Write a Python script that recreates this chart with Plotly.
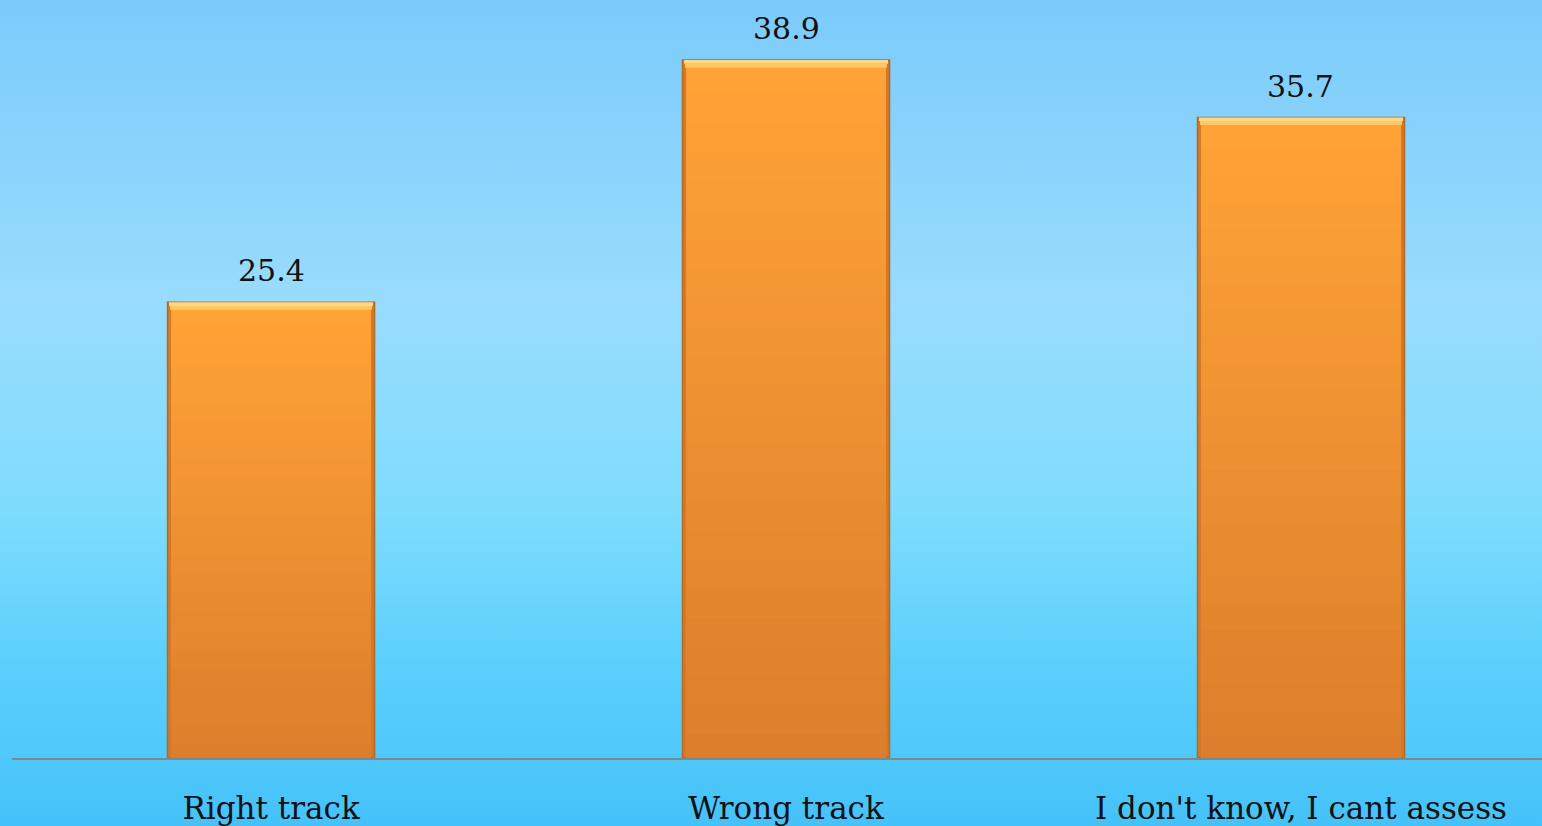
import base64
import plotly.graph_objects as go

# data
categories = ["Right track", "Wrong track", "I don't know, I cant assess"]
values = [25.4, 38.9, 35.7]
value_labels = ["25.4", "38.9", "35.7"]

# background gradient as an inline svg
bg_svg = """<svg xmlns='http://www.w3.org/2000/svg' width='100' height='100' preserveAspectRatio='none'>
<defs><linearGradient id='g' x1='0' y1='0' x2='0' y2='1'>
<stop offset='0' stop-color='#7BCBFB'/>
<stop offset='0.37' stop-color='#99DCFD'/>
<stop offset='0.62' stop-color='#7EDCFD'/>
<stop offset='0.80' stop-color='#5CD0FC'/>
<stop offset='1' stop-color='#45C2FA'/>
</linearGradient></defs>
<rect width='100' height='100' fill='url(#g)'/></svg>"""
bg_uri = "data:image/svg+xml;base64," + base64.b64encode(bg_svg.encode()).decode()


def mix(c1, c2, t):
    a = [int(c1[i:i + 2], 16) for i in (1, 3, 5)]
    b = [int(c2[i:i + 2], 16) for i in (1, 3, 5)]
    return "#%02X%02X%02X" % tuple(round(a[k] + (b[k] - a[k]) * t) for k in range(3))


fig = go.Figure()

bar_w = 0.402

# outer bar = darker bevel edge
fig.add_trace(go.Bar(x=categories, y=values, width=bar_w,
                     marker=dict(color="#D27A2A", line=dict(color="#B8691F", width=1.5)),
                     hoverinfo="skip", showlegend=False))

# vertical gradient of the face, stacked from light (top) to dark (bottom)
n = 24
for i in range(n):
    c = mix("#FFA337", "#DC7E2C", i / (n - 1))
    frac = 1 - i / n
    fig.add_trace(go.Bar(x=categories, y=[v * frac - 0.3 for v in values],
                         width=bar_w - 0.014,
                         marker=dict(color=c, line=dict(width=0)),
                         hoverinfo="skip", showlegend=False))

# top bevel highlight
fig.add_trace(go.Bar(x=categories, y=[0.22] * 3, base=[v - 0.42 for v in values],
                     width=bar_w - 0.01,
                     marker=dict(color="#FFC766", line=dict(width=0)),
                     hoverinfo="skip", showlegend=False))
fig.add_trace(go.Bar(x=categories, y=[0.2] * 3, base=[v - 0.2 for v in values],
                     width=bar_w - 0.006,
                     marker=dict(color="#FFD98A", line=dict(width=0)),
                     hoverinfo="skip", showlegend=False))

for cat, v, lab in zip(categories, values, value_labels):
    fig.add_annotation(x=cat, y=v, text=lab, showarrow=False,
                       yanchor="bottom", yshift=12,
                       font=dict(family="DejaVu Serif", size=30, color="#111111"))

fig.add_layout_image(dict(source=bg_uri, xref="paper", yref="paper",
                          x=-12 / 1530, y=1, sizex=1 + 24 / 1530, sizey=1 + 68 / 758,
                          xanchor="left", yanchor="top", sizing="stretch",
                          layer="below"))

fig.update_layout(
    width=1542, height=826,
    margin=dict(l=12, r=0, t=0, b=68),
    barmode="overlay",
    paper_bgcolor="#7EDCFD",
    plot_bgcolor="rgba(0,0,0,0)",
    showlegend=False,
    xaxis=dict(range=[-0.503, 2.468], showline=True, linecolor="#868686", linewidth=2,
               showgrid=False, zeroline=False, ticks="", ticklabelstandoff=22,
               tickfont=dict(family="DejaVu Serif", size=31, color="#111111")),
    yaxis=dict(range=[0, 42.25], showticklabels=False, showgrid=False,
               zeroline=False, showline=False),
)

fig.write_html("out.html", config={"displayModeBar": False},
               post_script="document.body.style.margin='0';document.body.style.overflow='hidden';")
